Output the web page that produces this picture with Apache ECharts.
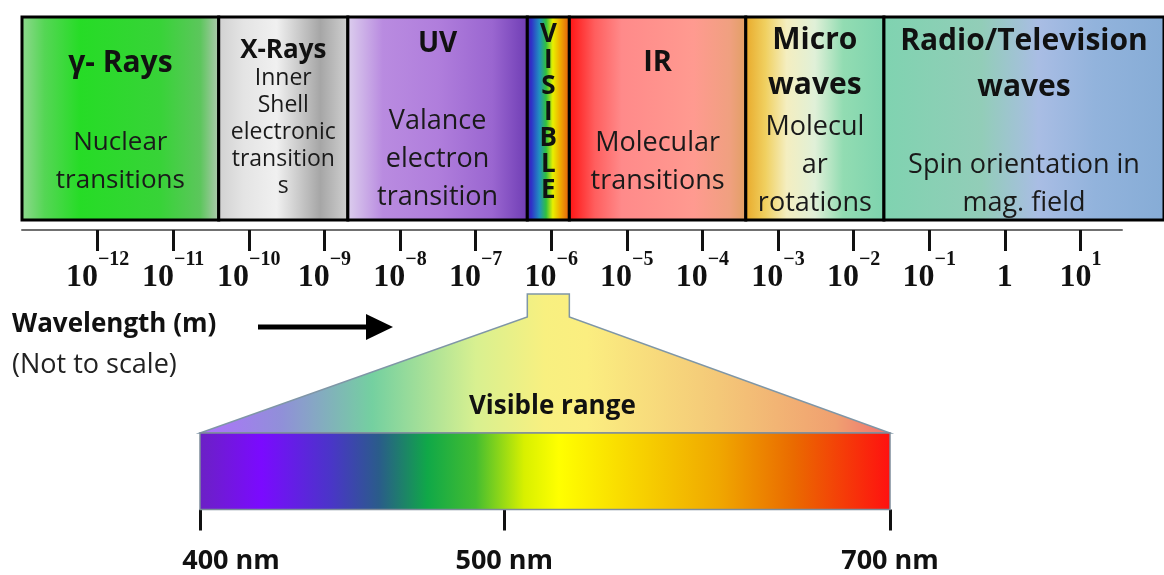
<!DOCTYPE html>
<html>
<head>
<meta charset="utf-8">
<script src="https://cdn.jsdelivr.net/npm/echarts@6/dist/echarts.min.js"></script>
<style>
html,body{margin:0;padding:0;background:#fff;}
#chart{width:1164px;height:575px;}
</style>
</head>
<body>
<div id="chart"></div>
<script>
// ---------- DATA ----------
const bandNames = ['γ- Rays', 'X-Rays', 'UV', 'VISIBLE', 'IR', 'Micro\nwaves', 'Radio/Television\nwaves'];
const bandDesc = ['Nuclear\ntransitions', 'Inner\nShell\nelectronic\ntransition\ns', 'Valance\nelectron\ntransition', '', 'Molecular\ntransitions', 'Molecul\nar\nrotations', 'Spin orientation in\nmag. field'];
// band edges along the (not to scale) log10 wavelength axis
const bandStart = [-13, -10.38, -8.66, -6.27, -5.71, -3.36, -1.52];
const bandEnd   = [-10.38, -8.66, -6.27, -5.71, -3.36, -1.52, 2.21];
const tickExps = [-12, -11, -10, -9, -8, -7, -6, -5, -4, -3, -2, -1, 0, 1];
const tickBase = ['10', '10', '10', '10', '10', '10', '10', '10', '10', '10', '10', '10', '1', '10'];
const tickSup  = ['−12', '−11', '−10', '−9', '−8', '−7', '−6', '−5', '−4', '−3', '−2', '−1', '', '1'];
// visible range bar (not to scale): tick positions as fraction of bar
const nmTickPos = [0, 0.441, 1];
const nmTickLabels = ['400 nm', '500 nm', '700 nm'];

// ---------- STYLES ----------
const SANS = '"Open Sans", "Noto Sans", sans-serif';
const bandStyle = [
  {stops: [[0,'#92d892'],[0.12,'#55d655'],[0.3,'#26dc26'],[0.7,'#38d338'],[0.9,'#5cc65c'],[1,'#b4c8b4']],
   titleY: 46, titleSize: 30, titleLH: 40, descY: 145, descSize: 26, descLH: 38},
  {stops: [[0,'#d0d0d0'],[0.2,'#e4e4e4'],[0.45,'#f0f0f0'],[0.78,'#a6a6a6'],[1,'#d2d2d2']],
   titleY: 34, titleSize: 26, titleLH: 30, descY: 115, descSize: 23, descLH: 27},
  {stops: [[0,'#ddd0ee'],[0.2,'#b98be0'],[0.5,'#b07edc'],[0.8,'#9a66d0'],[1,'#6e3cb4']],
   titleY: 27, titleSize: 28, titleLH: 34, descY: 142, descSize: 27, descLH: 38},
  {stops: [[0,'#4a1a9a'],[0.12,'#3030c8'],[0.3,'#2090c0'],[0.45,'#30c040'],[0.6,'#e8f000'],[0.75,'#f0b000'],[1,'#e05010']],
   titleY: 96, titleSize: 26, titleLH: 26, vertical: true},
  {stops: [[0,'#ff1010'],[0.15,'#ff5e5e'],[0.3,'#ff8a8a'],[0.7,'#ff9a90'],[0.9,'#f0a080'],[1,'#e0a062']],
   titleY: 46, titleSize: 29, titleLH: 36, descY: 145, descSize: 27, descLH: 38},
  {stops: [[0,'#e8a828'],[0.15,'#f0d060'],[0.3,'#f4eec0'],[0.5,'#e0f0d8'],[0.7,'#92dcb2'],[1,'#7dd3ae']],
   titleY: 46, titleSize: 30, titleLH: 45, descY: 148, descSize: 27, descLH: 38},
  {stops: [[0,'#7fd3b0'],[0.35,'#92cdb8'],[0.55,'#a9bde4'],[0.75,'#92b3dc'],[1,'#86acd6']],
   titleY: 47, titleSize: 30, titleLH: 46, descY: 167, descSize: 27, descLH: 38}
];
const spectrumStops = [[0,'#6b21c4'],[0.09,'#7b0aff'],[0.19,'#4a35c8'],[0.26,'#2a5c8a'],[0.33,'#10a848'],[0.4,'#44bd30'],[0.47,'#d8f000'],[0.52,'#ffff00'],[0.62,'#f8d800'],[0.75,'#f0a800'],[0.86,'#ea6a00'],[1,'#ff1010']];
const trapStops = [[0,'#b070ff'],[0.12,'#9090d8'],[0.25,'#74d0a0'],[0.4,'#d8f090'],[0.5,'#f8f080'],[0.56,'#fbee80'],[0.75,'#f4c878'],[0.92,'#f0a070'],[1,'#f07070']];

function grad(stops) {
  return new echarts.graphic.LinearGradient(0, 0, 1, 0, stops.map(s => ({offset: s[0], color: s[1]})));
}

const chart = echarts.init(document.getElementById('chart'), null, {renderer: 'canvas'});
let visPx = null;

function renderBand(params, api) {
  const i = api.value(2);
  const st = bandStyle[i];
  const p0 = api.coord([api.value(0), 1]);
  const p1 = api.coord([api.value(1), 0]);
  const x = p0[0], y = p0[1], w = p1[0] - p0[0], h = p1[1] - p0[1];
  const cx = x + w / 2;
  const children = [{
    type: 'rect', shape: {x: x, y: y, width: w, height: h},
    style: {fill: grad(st.stops), stroke: '#000', lineWidth: 3}
  }];
  const title = st.vertical ? bandNames[i].split('').join('\n') : bandNames[i];
  children.push({
    type: 'text',
    style: {text: title, x: cx, y: y + st.titleY, align: 'center', verticalAlign: 'middle',
      fontFamily: SANS, fontWeight: 'bold', fontSize: st.titleSize, lineHeight: st.titleLH, fill: '#111'}
  });
  if (bandDesc[i]) {
    children.push({
      type: 'text',
      style: {text: bandDesc[i], x: cx, y: y + st.descY, align: 'center', verticalAlign: 'middle',
        fontFamily: SANS, fontWeight: 'normal', fontSize: st.descSize, lineHeight: st.descLH, fill: '#1a1a1a'}
    });
  }
  return {type: 'group', children: children};
}

function renderSpectrum(params, api) {
  const p0 = api.coord([0, 1]);
  const p1 = api.coord([1, 0]);
  return {
    type: 'rect', shape: {x: p0[0], y: p0[1], width: p1[0] - p0[0], height: p1[1] - p0[1]},
    style: {fill: grad(spectrumStops), stroke: '#7d8c9a', lineWidth: 1.5}
  };
}

function renderTrap(params, api) {
  if (!visPx) return null;
  const bl = api.coord([0, 1]);
  const br = api.coord([1, 1]);
  const base = bl[1];
  const top = base - 139, shoulder = base - 116;
  const pts = [[visPx[0], top], [visPx[1], top], [visPx[1], shoulder], [br[0], base], [bl[0], base], [visPx[0], shoulder]];
  return {
    type: 'group',
    children: [
      {type: 'polygon', shape: {points: pts},
        style: {fill: grad(trapStops), stroke: '#7f96a6', lineWidth: 1.5}},
      {type: 'text', style: {text: 'Visible range', x: (visPx[0] + visPx[1]) / 2 + 4, y: base - 26,
        align: 'center', verticalAlign: 'middle', fontFamily: SANS, fontWeight: 'bold', fontSize: 26, fill: '#111'}}
    ]
  };
}

function buildOption() {
  return {
    animation: false,
    backgroundColor: '#fff',
    grid: [
      {left: 22, top: 17, width: 1150, height: 203},
      {left: 22, top: 200, width: 1100, height: 30},
      {left: 200, top: 433, width: 690, height: 78}
    ],
    xAxis: [
      {gridIndex: 0, type: 'value', min: -13, max: 2.21, show: false},
      {gridIndex: 1, type: 'value', min: -13, max: 1.55, position: 'bottom',
        splitLine: {show: false},
        axisLine: {show: true, lineStyle: {color: '#707070', width: 2}},
        axisTick: {show: true, customValues: tickExps, length: 21, inside: false, lineStyle: {color: '#111', width: 3}},
        axisLabel: {show: true, customValues: tickExps, margin: 20,
          formatter: function (v) {
            const i = tickExps.indexOf(Math.round(v));
            if (i < 0) return '';
            return tickSup[i] ? '{b|' + tickBase[i] + '}{s|' + tickSup[i] + '}' : '{b|' + tickBase[i] + '}';
          },
          rich: {
            b: {fontFamily: '"Liberation Serif", serif', fontWeight: 'bold', fontSize: 32, lineHeight: 44, color: '#111', verticalAlign: 'bottom'},
            s: {fontFamily: '"Liberation Serif", serif', fontWeight: 'bold', fontSize: 20, lineHeight: 20, color: '#111', verticalAlign: 'top'}
          }
        }
      },
      {gridIndex: 2, type: 'value', min: 0, max: 1, position: 'bottom',
        splitLine: {show: false},
        axisLine: {show: false},
        axisTick: {show: true, customValues: nmTickPos, length: 21, inside: false, lineStyle: {color: '#111', width: 3}},
        axisLabel: {show: true, customValues: nmTickPos, margin: 37,
          formatter: function (v) {
            let best = 0;
            nmTickPos.forEach((p, k) => { if (Math.abs(p - v) < Math.abs(nmTickPos[best] - v)) best = k; });
            return best === 0 ? '{first|' + nmTickLabels[best] + '}' : '{n|' + nmTickLabels[best] + '}';
          },
          rich: {
            n: {fontFamily: SANS, fontWeight: 'bold', fontSize: 27, lineHeight: 30, color: '#111'},
            first: {fontFamily: SANS, fontWeight: 'bold', fontSize: 27, lineHeight: 30, color: '#111', padding: [0, 0, 0, 62]}
          }
        }
      }
    ],
    yAxis: [
      {gridIndex: 0, type: 'value', min: 0, max: 1, show: false},
      {gridIndex: 1, type: 'value', min: 0, max: 1, show: false},
      {gridIndex: 2, type: 'value', min: 0, max: 1, show: false}
    ],
    graphic: [
      {type: 'text', left: 12, top: 312, style: {text: 'Wavelength (m)', fontFamily: SANS, fontWeight: 'bold', fontSize: 26, fill: '#111'}},
      {type: 'text', left: 12, top: 352, style: {text: '(Not to scale)', fontFamily: SANS, fontWeight: 'normal', fontSize: 27, fill: '#222'}},
      {type: 'group', children: [
        {type: 'line', shape: {x1: 258, y1: 327, x2: 370, y2: 327}, style: {stroke: '#000', lineWidth: 5}},
        {type: 'polygon', shape: {points: [[366, 314], [393, 327], [366, 340]]}, style: {fill: '#000'}}
      ]}
    ],
    series: [
      {type: 'custom', xAxisIndex: 0, yAxisIndex: 0, renderItem: renderBand,
        data: bandStart.map((s, i) => [s, bandEnd[i], i])},
      {type: 'custom', xAxisIndex: 2, yAxisIndex: 2, renderItem: renderTrap, clip: false, z: 3, data: [[0, 1]]},
      {type: 'custom', xAxisIndex: 2, yAxisIndex: 2, renderItem: renderSpectrum, z: 4, data: [[0, 1]]},
      {type: 'line', xAxisIndex: 1, yAxisIndex: 1, data: [], showSymbol: false}
    ]
  };
}

chart.setOption(buildOption());
visPx = [chart.convertToPixel({xAxisIndex: 0}, bandStart[3]), chart.convertToPixel({xAxisIndex: 0}, bandEnd[3])];
chart.setOption(buildOption(), true);
</script>
</body>
</html>
